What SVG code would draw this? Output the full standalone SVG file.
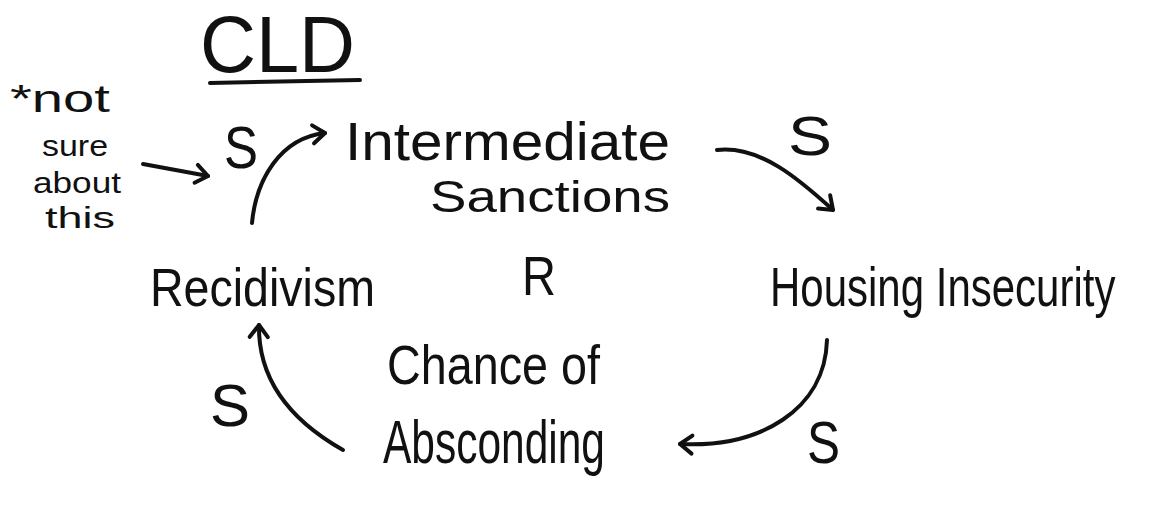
<svg xmlns="http://www.w3.org/2000/svg" width="1150" height="512" viewBox="0 0 1150 512">
  <style>
    .t { font-family: "Liberation Sans", "DejaVu Sans", sans-serif; fill: #111; }
    .c { fill: none; stroke: #111; stroke-width: 4; stroke-linecap: round; stroke-linejoin: round; }
  </style>
  <defs>
    <marker id="arr" markerUnits="userSpaceOnUse" markerWidth="30" markerHeight="30" refX="0" refY="0" viewBox="-15 -15 30 30" orient="auto" overflow="visible">
      <path d="M-12,-9 L0,0 L-12,9" fill="none" stroke="#111" stroke-width="4" stroke-linecap="round" stroke-linejoin="round"/>
    </marker>
  </defs>
  <rect width="1150" height="512" fill="#ffffff"/>

  <g id="title">
    <text class="t" x="200" y="72" font-size="80" textLength="155" lengthAdjust="spacingAndGlyphs">CLD</text>
    <path class="c" d="M210,83 L360,80"/>
  </g>

  <g id="note">
    <text class="t" x="10" y="112" font-size="38" textLength="100" lengthAdjust="spacingAndGlyphs">*not</text>
    <text class="t" x="42" y="156" font-size="30" textLength="66" lengthAdjust="spacingAndGlyphs">sure</text>
    <text class="t" x="33" y="193" font-size="30" textLength="88" lengthAdjust="spacingAndGlyphs">about</text>
    <text class="t" x="45" y="228" font-size="30" textLength="70" lengthAdjust="spacingAndGlyphs">this</text>
  </g>

  <g id="node-intermediate-sanctions">
    <text class="t" x="345" y="160" font-size="54" textLength="325" lengthAdjust="spacingAndGlyphs">Intermediate</text>
    <text class="t" x="430" y="212" font-size="44" textLength="240" lengthAdjust="spacingAndGlyphs">Sanctions</text>
  </g>

  <g id="node-housing-insecurity" transform="translate(770,306) scale(0.75,1)">
    <text class="t" x="0" y="0" font-size="56">Housing Insecurity</text>
  </g>

  <g id="node-chance-of-absconding">
    <text class="t" x="387" y="384" font-size="56" textLength="213" lengthAdjust="spacingAndGlyphs">Chance of</text>
    <text class="t" x="383" y="463" font-size="62" textLength="222" lengthAdjust="spacingAndGlyphs">Absconding</text>
  </g>

  <g id="node-recidivism">
    <text class="t" x="150" y="306" font-size="54" textLength="225" lengthAdjust="spacingAndGlyphs">Recidivism</text>
  </g>

  <g id="loop-label">
    <text class="t" x="522" y="295" font-size="55" textLength="34" lengthAdjust="spacingAndGlyphs">R</text>
  </g>

  <g id="connectors">
    <path class="c" d="M143,164 L208,176" marker-end="url(#arr)"/>
    <path class="c" d="M252,223 C256,180 280,138 325,133" marker-end="url(#arr)"/>
    <path class="c" d="M717,150 C760,145 800,180 833,210" marker-end="url(#arr)"/>
    <path class="c" d="M827,340 C825,410 760,448 680,444" marker-end="url(#arr)"/>
    <path class="c" d="M343,450 C290,420 258,380 259,325" marker-end="url(#arr)"/>
  </g>

  <g id="link-labels">
    <text class="t" x="224" y="168" font-size="60" textLength="34" lengthAdjust="spacingAndGlyphs">S</text>
    <text class="t" x="788" y="155" font-size="55" textLength="44" lengthAdjust="spacingAndGlyphs">S</text>
    <text class="t" x="807" y="463" font-size="60" textLength="33" lengthAdjust="spacingAndGlyphs">S</text>
    <text class="t" x="210" y="426" font-size="60" textLength="40" lengthAdjust="spacingAndGlyphs">S</text>
  </g>
</svg>
